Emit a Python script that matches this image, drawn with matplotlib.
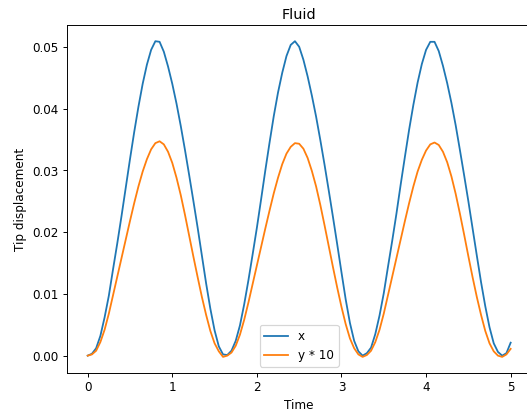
import numpy as np
import matplotlib
matplotlib.use("Agg")
import matplotlib.pyplot as plt

# Time axis (sampled every 0.05 from 0 to 5)
time = np.round(np.arange(0, 101) * 0.05, 2)

# Tip displacement in x
x_disp = [
    0.0000, 0.0003, 0.0012, 0.0032, 0.0062, 0.0097, 0.0140, 0.0182, 0.0226, 0.0272,
    0.0318, 0.0362, 0.0403, 0.0440, 0.0471, 0.0495, 0.0509, 0.0508, 0.0492, 0.0468,
    0.0440, 0.0408, 0.0372, 0.0333, 0.0292, 0.0250, 0.0207, 0.0162, 0.0117, 0.0076,
    0.0041, 0.0015, 0.0002,
    0.0001, 0.0008, 0.0024, 0.0049, 0.0083, 0.0122, 0.0164, 0.0207, 0.0253, 0.0300,
    0.0345, 0.0388, 0.0426, 0.0458, 0.0485, 0.0503, 0.0509, 0.0500, 0.0479, 0.0452,
    0.0421, 0.0387, 0.0349, 0.0309, 0.0267, 0.0224, 0.0180, 0.0135, 0.0091, 0.0053,
    0.0024, 0.0007, 0.0000,
    0.0004, 0.0013, 0.0035, 0.0065, 0.0101, 0.0144, 0.0186, 0.0230, 0.0277, 0.0322,
    0.0366, 0.0406, 0.0442, 0.0472, 0.0495, 0.0508, 0.0508, 0.0493, 0.0469, 0.0441,
    0.0409, 0.0373, 0.0333, 0.0292, 0.0250, 0.0206, 0.0162, 0.0119, 0.0080, 0.0046,
    0.0020, 0.0006, 0.0000, 0.0004, 0.0021,
]

# Tip displacement in y, multiplied by 10
y_disp10 = [
    0.0000, 0.0002, 0.0008, 0.0022, 0.0042, 0.0068, 0.0098, 0.0128, 0.0158, 0.0188,
    0.0218, 0.0247, 0.0274, 0.0298, 0.0318, 0.0334, 0.0344, 0.0347, 0.0342, 0.0330,
    0.0312, 0.0288, 0.0260, 0.0228, 0.0194, 0.0160, 0.0127, 0.0095, 0.0066, 0.0040,
    0.0020, 0.0007, -0.0002,
    0.0000, 0.0005, 0.0016, 0.0034, 0.0058, 0.0086, 0.0116, 0.0146, 0.0176, 0.0206,
    0.0235, 0.0263, 0.0288, 0.0310, 0.0327, 0.0338, 0.0344, 0.0343, 0.0335, 0.0320,
    0.0299, 0.0274, 0.0244, 0.0211, 0.0177, 0.0143, 0.0110, 0.0079, 0.0051, 0.0028,
    0.0012, 0.0002, -0.0002,
    0.0001, 0.0008, 0.0022, 0.0042, 0.0068, 0.0098, 0.0128, 0.0158, 0.0188, 0.0218,
    0.0247, 0.0274, 0.0298, 0.0317, 0.0332, 0.0342, 0.0345, 0.0341, 0.0330, 0.0313,
    0.0290, 0.0262, 0.0230, 0.0196, 0.0161, 0.0127, 0.0095, 0.0066, 0.0040, 0.0020,
    0.0007, 0.0000, -0.0002, 0.0002, 0.0011,
]

series_labels = ["x", "y * 10"]
title = "Fluid"
xlabel = "Time"
ylabel = "Tip displacement"

DPI = 86.4
fig = plt.figure(figsize=(527.3 / DPI, 413.3 / DPI), dpi=DPI)
ax = fig.add_axes([66.5 / 527, 40.3 / 413, 465 / 527, 347 / 413])

ax.plot(time, x_disp, label=series_labels[0])
ax.plot(time, y_disp10, label=series_labels[1])
ax.set_xlim(-0.25, 5.25)
ax.set_title(title)
ax.set_xlabel(xlabel)
ax.set_ylabel(ylabel)
ax.legend(loc="lower center")

fig.savefig("out.png", dpi=DPI)
